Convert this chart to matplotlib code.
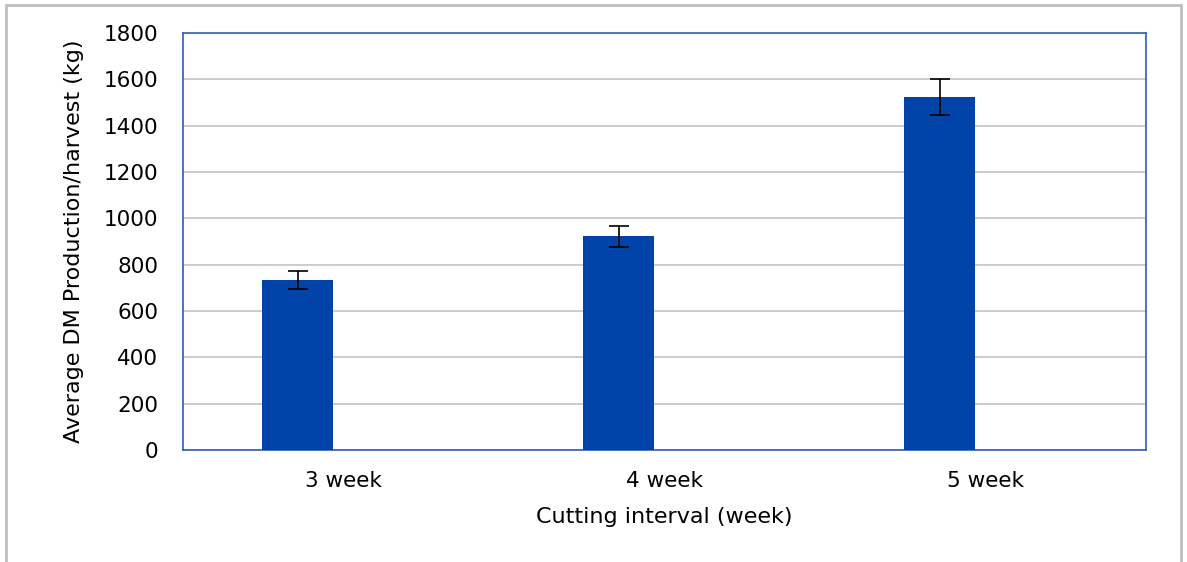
import numpy as np
import matplotlib.pyplot as plt
from matplotlib.patches import Rectangle

categories = ["3 week", "4 week", "5 week"]
dm_prod = [735, 922, 1523]
dm_err = [38, 46, 78]

fig = plt.figure(figsize=(11.87, 5.62), dpi=100)
ax = fig.add_axes([0.1542, 0.1993, 0.8113, 0.742])

x = np.arange(len(categories))
ax.bar(x - 0.142, dm_prod, width=0.221, color='#0044AA', zorder=3,
       yerr=dm_err, capsize=7, error_kw=dict(ecolor='black', elinewidth=1.2, capthick=1.2, zorder=4))

ax.set_xlim(-0.5, 2.5)
ax.set_ylim(0, 1800)
ax.set_yticks(np.arange(0, 1801, 200))
ax.set_xticks(x)
ax.set_xticklabels(categories)
ax.yaxis.grid(True, color='#C4C4C4', linewidth=1.2, zorder=0)
ax.tick_params(length=0, labelsize=15.5)
ax.tick_params(axis='y', pad=18)
ax.tick_params(axis='x', pad=15)
for s in ax.spines.values():
    s.set_color('#2F5FB3')
    s.set_linewidth(1.2)

ax.set_xlabel("Cutting interval (week)", fontsize=16, labelpad=12)
ax.set_ylabel("Average DM Production/harvest (kg)", fontsize=16, labelpad=14)

# light gray frame around the whole picture
fig.patches.append(Rectangle((0.005, -0.05), 0.99, 1.041, transform=fig.transFigure,
                             fill=False, edgecolor='#BFBFBF', linewidth=2))

fig.savefig('out.png', dpi=100)
